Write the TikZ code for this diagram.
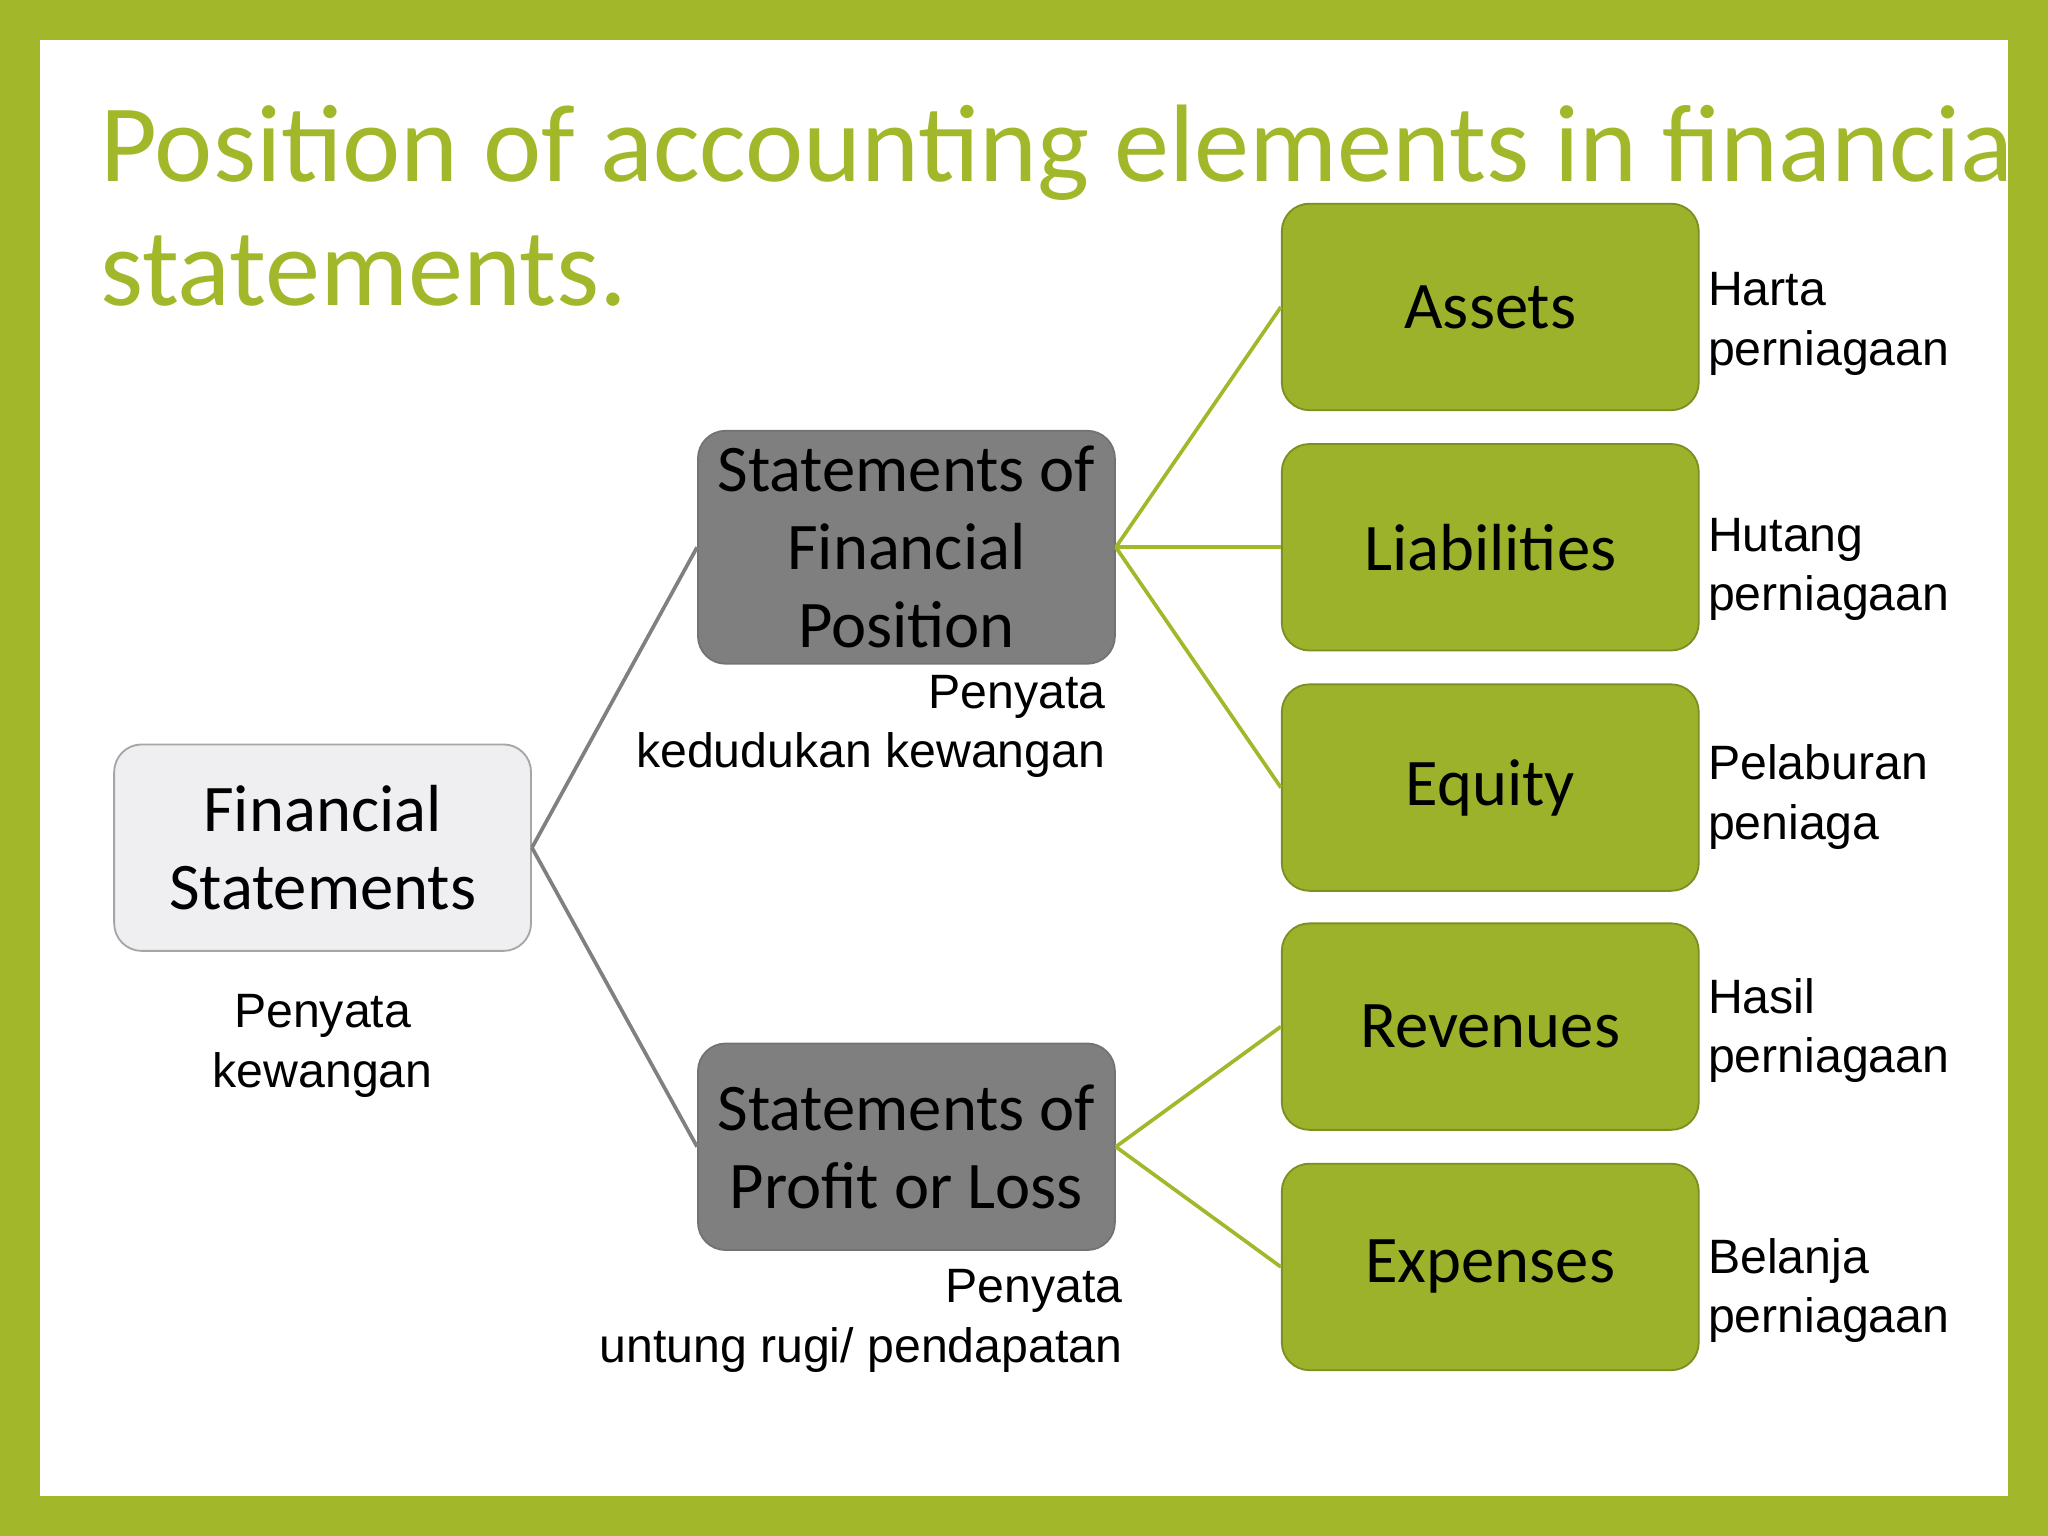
\documentclass[tikz,border=0pt]{standalone}
\usepackage{fontspec}
\setmainfont{Carlito}
\newfontfamily\labelfont{Liberation Sans}
\usetikzlibrary{positioning}
\definecolor{slidegreen}{HTML}{A2B82A}
\definecolor{boxgreen}{HTML}{9DB22B}
\definecolor{boxgray}{HTML}{7F7F80}
\definecolor{lightbox}{HTML}{EFEEF1}
\tikzset{
  box/.style={rounded corners=6pt, minimum width=3.19cm, minimum height=1.58cm, align=center, font=\fontsize{14.5}{17}\selectfont},
  rootbox/.style={box, fill=lightbox, draw=gray!70},
  midbox/.style={box, fill=boxgray, draw=gray!90!black},
  leafbox/.style={box, fill=boxgreen, draw=boxgreen!80!black},
  note/.style={font=\labelfont\fontsize{10.5}{13}\selectfont, inner sep=0pt},
  grayline/.style={gray, thick},
  greenline/.style={slidegreen, thick}
}
\begin{document}
\begin{tikzpicture}[x=0.01cm, y=-0.01cm]
      \fill[slidegreen] (0,0) rectangle (1568,1176);
      \fill[white] (31,31) rectangle (1537,1145);
      \useasboundingbox (0,0) rectangle (1568,1176);
      % title
      \node[anchor=north west, inner sep=0pt, align=left, text=slidegreen, font=\fontsize{24}{27}\selectfont] (title) at (76,80) {Position of accounting elements in financial\\statements.};
      % boxes
      \node[rootbox] (fs) at (247,649) {Financial\\Statements};
      \node[midbox] (sfp) at (694,419) {Statements of\\Financial\\Position};
      \node[midbox] (spl) at (694,878) {Statements of\\Profit or Loss};
      \node[leafbox] (assets) at (1141,235) {Assets};
      \node[leafbox] (liab) at (1141,419) {Liabilities};
      \node[leafbox] (equity) at (1141,603) {Equity};
      \node[leafbox] (rev) at (1141,786) {Revenues};
      \node[leafbox] (exp) at (1141,970) {Expenses};
      % connectors
      \draw[grayline] (fs.east)--(sfp.west);
      \draw[grayline] (fs.east)--(spl.west);
      \draw[greenline] (sfp.east)--(assets.west);
      \draw[greenline] (sfp.east)--(liab.west);
      \draw[greenline] (sfp.east)--(equity.west);
      \draw[greenline] (spl.east)--(rev.west);
      \draw[greenline] (spl.east)--(exp.west);
      % notes
      \node[note, align=center, below=0.32cm of fs] (fsnote) {Penyata\\kewangan};
      \node[note, align=right, anchor=north east] (sfpnote) at (847,516) {Penyata\\kedudukan kewangan};
      \node[note, align=right, anchor=north east] (splnote) at (860,971) {Penyata\\untung rugi/ pendapatan};
      \node[note, align=left, anchor=west] (assetsnote) at (1307,248) {Harta\\perniagaan};
      \node[note, align=left, anchor=west] (liabnote) at (1307,436) {Hutang\\perniagaan};
      \node[note, align=left, anchor=west] (equitynote) at (1307,610) {Pelaburan\\peniaga};
      \node[note, align=left, anchor=west] (revnote) at (1307,789) {Hasil\\perniagaan};
      \node[note, align=left, anchor=west] (expnote) at (1307,988) {Belanja\\perniagaan};
\end{tikzpicture}
\end{document}
